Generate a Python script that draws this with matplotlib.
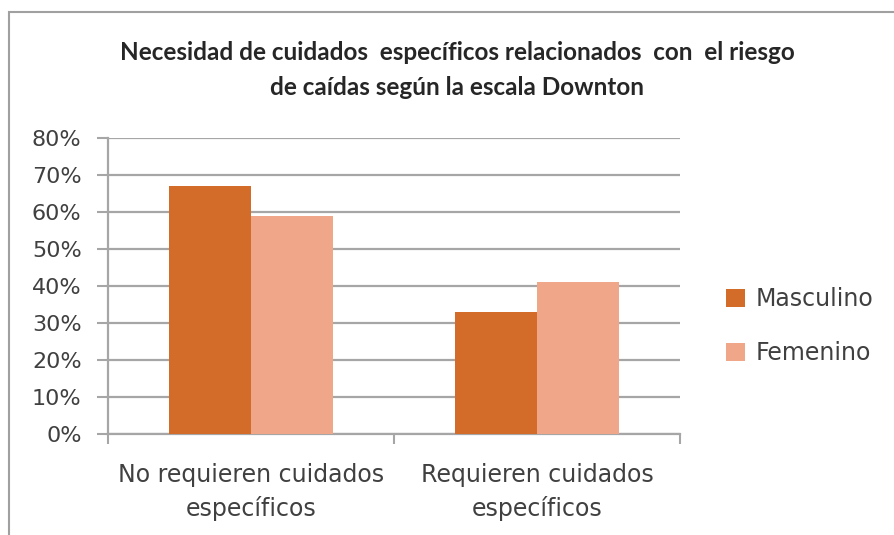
import numpy as np
import matplotlib
matplotlib.use("Agg")
import matplotlib.pyplot as plt
from matplotlib.patches import Rectangle, Patch

# data
categories = ["No requieren cuidados\nespecíficos", "Requieren cuidados\nespecíficos"]
series_names = ["Masculino", "Femenino"]
masculino = [67, 33]
femenino = [59, 41]
colors = ["#D26C28", "#F0A789"]
y_ticks = [0, 10, 20, 30, 40, 50, 60, 70, 80]

title = "Necesidad de cuidados  específicos relacionados  con  el riesgo\nde caídas según la escala Downton"

grid_col = "#A6A6A6"
text_col = "#404040"

fig = plt.figure(figsize=(8.95, 5.35), dpi=100)
ax = fig.add_axes([108 / 895, 1 - 434 / 535, (680 - 108) / 895, (434 - 138) / 535])

# outer chart frame
fig.patches.append(Rectangle((9 / 895, -0.1), 1.2, 1 - 12 / 535 + 0.1,
                             transform=fig.transFigure, fill=False,
                             edgecolor="#A0A0A0", linewidth=1.5))

x = np.arange(len(categories)) + 0.5
w = 0.287
ax.bar(x - w / 2, masculino, width=w, color=colors[0], zorder=3)
ax.bar(x + w / 2, femenino, width=w, color=colors[1], zorder=3)

ax.set_xlim(0, len(categories))
ax.set_ylim(0, 80)
ax.set_yticks(y_ticks)
ax.set_yticklabels([f"{v}%" for v in y_ticks])
ax.yaxis.grid(True, color=grid_col, linewidth=1.6, zorder=0)
ax.set_axisbelow(True)

# category boundaries as major ticks, labels on minor ticks
ax.set_xticks(np.arange(len(categories) + 1))
ax.set_xticklabels([])
ax.set_xticks(x, minor=True)
ax.set_xticklabels(categories, minor=True, fontsize=17, color=text_col,
                   linespacing=1.45)
ax.tick_params(axis="x", which="major", length=7, width=1.5, color=grid_col, direction="out")
ax.tick_params(axis="x", which="minor", length=0, pad=21)
ax.tick_params(axis="y", length=8, width=1.5, color=grid_col, labelsize=16,
               labelcolor=text_col, pad=11)

for s in ["top", "right"]:
    ax.spines[s].set_visible(False)
for s in ["left", "bottom"]:
    ax.spines[s].set_color(grid_col)
    ax.spines[s].set_linewidth(1.6)

fig.text(0.511, 1 - 70 / 535, title, ha="center", va="center", fontsize=17.5,
         fontweight="bold", family=["Lato", "DejaVu Sans"],
         color="#262626", linespacing=1.6)

handles = [Patch(facecolor=c, edgecolor="none") for c in colors]
fig.legend(handles, series_names, loc="center left",
           bbox_to_anchor=(717 / 895, 1 - 326 / 535), frameon=False,
           borderaxespad=0, fontsize=17, labelcolor=text_col,
           handlelength=0.8, handleheight=0.8,
           handletextpad=0.45, labelspacing=1.25)

fig.savefig("out.png", dpi=100)
